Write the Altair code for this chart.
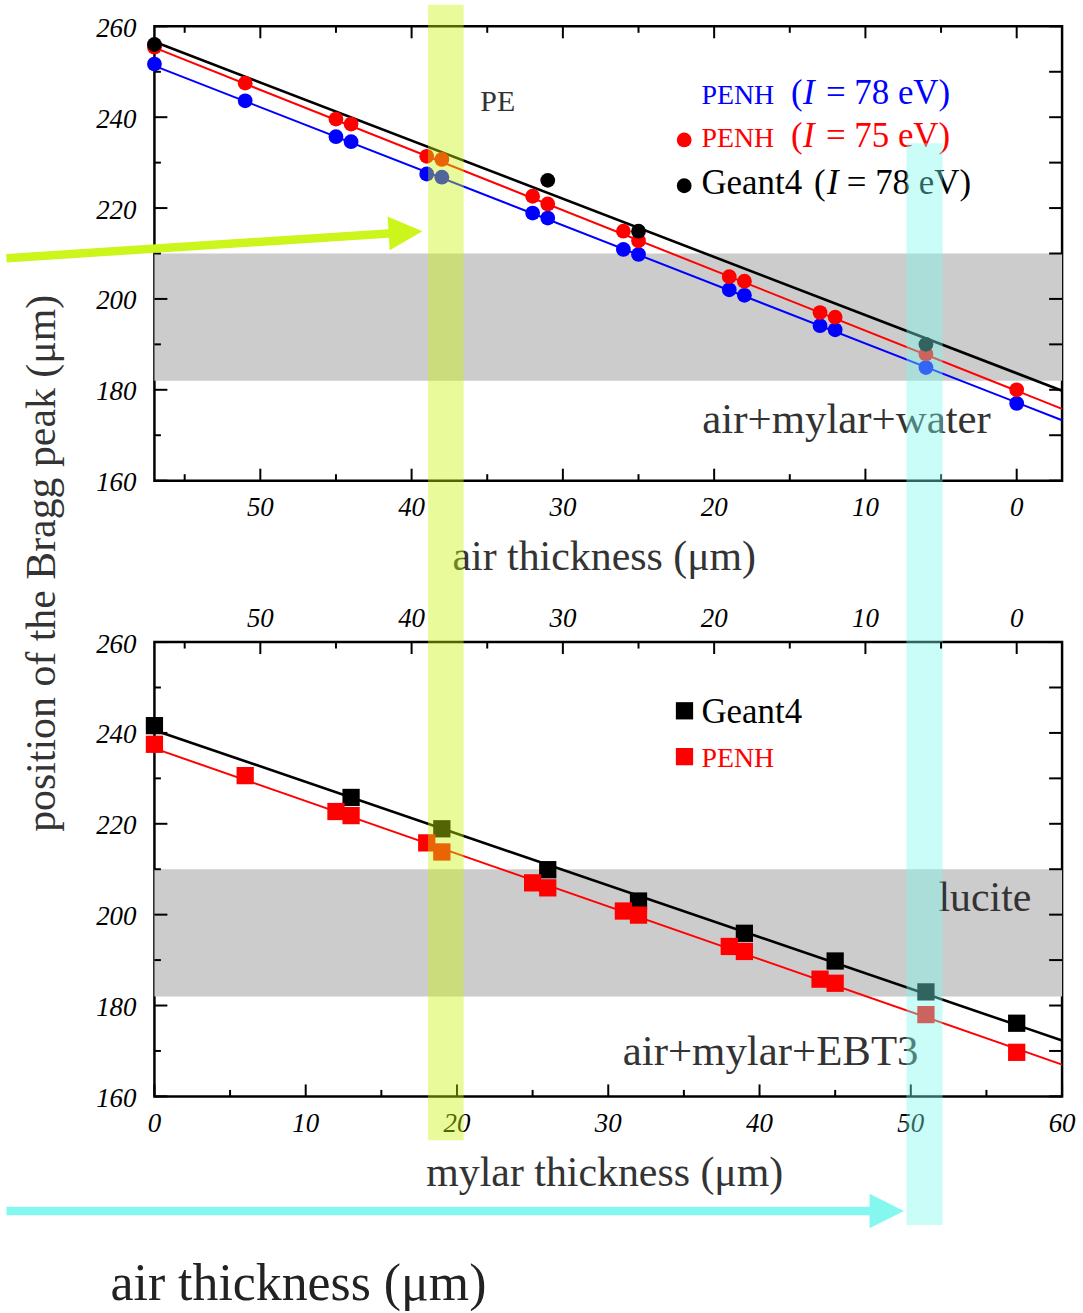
import altair as alt
import pandas as pd

FONT = "Liberation Serif"
W, H = 911, 456

# ---------------- data ----------------
# thickness of the layers (um); air = 57 - mylar
mylar_um = [0, 6, 12, 13, 18, 19, 25, 26, 31, 32, 38, 39, 44, 45, 51, 57]
air_um = [57, 51, 45, 44, 39, 38, 32, 31, 26, 25, 19, 18, 13, 12, 6, 0]

# top panel: air+mylar+water, Bragg peak position vs air thickness
penh78_water = [251.7, 243.6, 235.7, 234.6, 227.5, 226.8, 218.9, 217.8,
                210.9, 209.8, 202.0, 200.8, 194.1, 193.2, 184.9, 177.0]
penh75_water = [255.4, 247.5, 239.6, 238.5, 231.4, 230.7, 222.6, 220.9,
                214.9, 212.8, 204.9, 203.9, 197.0, 196.0, 187.9, 180.0]
geant4_water_air = [57, 31, 25, 6]
geant4_water = [256.0, 226.1, 214.9, 190.0]

fit_air = [57, -3]
fit_penh78_water = [251.3, 173.3]
fit_penh75_water = [255.3, 175.8]
fit_geant4_water = [256.6, 179.8]

# bottom panel: air+mylar+EBT3, Bragg peak position vs mylar thickness
penh_ebt3 = [237.5, 230.6, 222.7, 221.8, 215.8, 213.8, 207.0, 205.9,
             200.8, 199.9, 193.0, 191.9, 185.8, 184.9, 178.0, 169.7]
geant4_ebt3_mylar = [0, 13, 19, 26, 32, 39, 45, 51, 57]
geant4_ebt3 = [241.6, 225.8, 218.9, 209.9, 203.0, 195.9, 189.8, 183.0, 176.1]

fit_mylar = [0, 60]
fit_penh_ebt3 = [236.6, 167.0]
fit_geant4_ebt3 = [240.6, 172.3]

# shaded regions
band_gray = [182, 210]
band_yellow_mylar = [18.09, 20.44]
band_cyan_mylar = [49.71, 52.10]

# axis ticks / labels
air_major = [50, 40, 30, 20, 10, 0]
air_minor = [55, 45, 35, 25, 15, 5]
mylar_major = [0, 10, 20, 30, 40, 50, 60]
mylar_minor = [5, 15, 25, 35, 45, 55]
y_major = [160, 180, 200, 220, 240, 260]
y_minor = [170, 190, 210, 230, 250]

# ---------------- styling ----------------
BLUE, RED, BLACK = "#0000FF", "#FF0000", "#000000"
GRAY_TXT = "#333333"
YELLOW, CYAN = "#C8F40A", "#7DFAED"
ARROW_Y, ARROW_C = "#CCF51C", "#84F8EE"
DOT, SQ = 220, 300
LABEL_SIZE, TITLE_SIZE = 27, 42

XS_AIR = alt.Scale(domain=[-3, 57], reverse=True, nice=False, zero=False)
XS_MYL = alt.Scale(domain=[0, 60], nice=False, zero=False)
YS = alt.Scale(domain=[160, 260], nice=False, zero=False)


def xq(field, xs):
    return alt.X(field, type="quantitative", scale=xs, axis=None)


def yq(field):
    return alt.Y(field, type="quantitative", scale=YS, axis=None)


def note(text, x, y, xs, size, color=GRAY_TXT, style="normal", align="left"):
    d = pd.DataFrame({"x": [x], "y": [y], "t": [text]})
    return alt.Chart(d).mark_text(
        font=FONT, fontSize=size, color=color, fontStyle=style,
        align=align, baseline="alphabetic"
    ).encode(x=xq("x", xs), y=yq("y"), text="t:N")


def title_text(text, px, py, angle=0):
    d = pd.DataFrame({"t": [text]})
    return alt.Chart(d).mark_text(
        font=FONT, fontSize=TITLE_SIZE, color=GRAY_TXT, align="center",
        baseline="alphabetic", angle=angle
    ).encode(x=alt.value(px), y=alt.value(py), text="t:N")


def xlabels(vals, xs, py):
    d = pd.DataFrame({"v": vals})
    return alt.Chart(d).mark_text(
        font=FONT, fontSize=LABEL_SIZE, fontStyle="italic", color="black",
        align="center", baseline="alphabetic"
    ).encode(x=xq("v", xs), y=alt.value(py), text=alt.Text("v:Q", format="d"))


def ylabels(vals):
    d = pd.DataFrame({"v": vals})
    return alt.Chart(d).mark_text(
        font=FONT, fontSize=LABEL_SIZE, fontStyle="italic", color="black",
        align="right", baseline="alphabetic", dy=10.5
    ).encode(y=yq("v"), x=alt.value(-18), text=alt.Text("v:Q", format="d"))


def xticks(vals, xs, length, side):
    d = pd.DataFrame({"v": vals})
    y0, y1 = (H, H - length) if side == "bottom" else (0, length)
    return alt.Chart(d).mark_rule(color="black", strokeWidth=2).encode(
        x=xq("v", xs), y=alt.value(y0), y2=alt.value(y1))


def yticks(vals, length, side):
    d = pd.DataFrame({"v": vals})
    x0, x1 = (0, length) if side == "left" else (W, W - length)
    return alt.Chart(d).mark_rule(color="black", strokeWidth=2).encode(
        y=yq("v"), x=alt.value(x0), x2=alt.value(x1))


def band(x0, x1, y0, y1, xs, color, opacity):
    d = pd.DataFrame({"x": [x0], "x2": [x1], "y": [y0], "y2": [y1]})
    return alt.Chart(d).mark_rect(color=color, opacity=opacity).encode(
        x=xq("x", xs), x2="x2:Q", y=yq("y"), y2="y2:Q")


def fit_line(xv, yv, xs, color, width):
    d = pd.DataFrame({"x": xv, "y": yv})
    return alt.Chart(d).mark_line(color=color, strokeWidth=width).encode(
        x=xq("x", xs), y=yq("y"))


def pts(xv, yv, xs, color, shape, size):
    d = pd.DataFrame({"x": xv, "y": yv})
    return alt.Chart(d).mark_point(
        shape=shape, filled=True, size=size, color=color, opacity=1, strokeWidth=0
    ).encode(x=xq("x", xs), y=yq("y"))


def arrow(xs, x0, y0, x1, y1, hx, hy, angle, hsize, color):
    shaft = alt.Chart(pd.DataFrame({"x": [x0], "x2": [x1], "y": [y0], "y2": [y1]})).mark_rule(
        color=color, strokeWidth=8.5).encode(x=xq("x", xs), x2="x2:Q", y=yq("y"), y2="y2:Q")
    head = alt.Chart(pd.DataFrame({"x": [hx], "y": [hy]})).mark_point(
        shape="M -1 -1 L 1 0 L -1 1 Z", filled=True, size=hsize, angle=angle,
        color=color, opacity=1, strokeWidth=0).encode(x=xq("x", xs), y=yq("y"))
    return [shaft, head]


# ---------------- top panel ----------------
# invisible rectangle spanning the whole picture (fixes the page extent)
canvas = alt.Chart(pd.DataFrame({"c": [0]})).mark_rect(opacity=0).encode(
    x=alt.value(-153), x2=alt.value(1083 - 153), y=alt.value(-22), y2=alt.value(1313 - 22))

top_layers = [
    canvas,
    band(57, -3, band_gray[0], band_gray[1], XS_AIR, "#CCCCCC", 1),
    xticks(air_major, XS_AIR, 12, "bottom"),
    xticks(air_minor, XS_AIR, 6.5, "bottom"),
    xticks(air_major, XS_AIR, 12, "top"),
    xticks(air_minor, XS_AIR, 6.5, "top"),
    yticks(y_major, 13, "left"),
    yticks(y_minor, 6.5, "left"),
    yticks(y_major, 13, "right"),
    yticks(y_minor, 13, "right"),
    xlabels(air_major, XS_AIR, H + 35),
    ylabels(y_major),
    title_text("air thickness (μm)", 451.5, H + 90),
    title_text("position of the Bragg peak (μm)", -99.5, 539, angle=270),
    fit_line(fit_air, fit_penh78_water, XS_AIR, BLUE, 2),
    fit_line(fit_air, fit_penh75_water, XS_AIR, RED, 2),
    fit_line(fit_air, fit_geant4_water, XS_AIR, BLACK, 2.6),
    pts(air_um, penh78_water, XS_AIR, BLUE, "circle", DOT),
    pts(air_um, penh75_water, XS_AIR, RED, "circle", DOT),
    pts(geant4_water_air, geant4_water, XS_AIR, BLACK, "circle", DOT),
    # legend
    pts([21.98], [235.0], XS_AIR, RED, "circle", DOT),
    pts([21.98], [224.91], XS_AIR, BLACK, "circle", DOT),
    note("PENH", 20.84, 242.89, XS_AIR, 28, BLUE),
    note("(", 14.92, 242.89, XS_AIR, 35, BLUE),
    note("I", 14.12, 242.89, XS_AIR, 35, BLUE, "italic"),
    note("= 78 eV)", 12.61, 242.89, XS_AIR, 35, BLUE),
    note("PENH", 20.84, 233.40, XS_AIR, 28, RED),
    note("(", 14.92, 233.40, XS_AIR, 35, RED),
    note("I", 14.12, 233.40, XS_AIR, 35, RED, "italic"),
    note("= 75 eV)", 12.61, 233.40, XS_AIR, 35, RED),
    note("Geant4", 20.84, 223.0, XS_AIR, 35, BLACK),
    note("(", 13.40, 223.0, XS_AIR, 35, BLACK),
    note("I", 12.54, 223.0, XS_AIR, 35, BLACK, "italic"),
    note("= 78 eV)", 11.23, 223.0, XS_AIR, 35, BLACK),
    note("PE", 35.46, 241.43, XS_AIR, 30),
    note("air+mylar+water", 20.78, 170.53, XS_AIR, 43),
] + arrow(XS_AIR, 66.78, 208.97, 41.26, 214.47, 40.40, 214.65, 356.3, 1156, ARROW_Y)

top = alt.layer(*top_layers).properties(width=W, height=H)

# ---------------- bottom panel ----------------
bottom_main = alt.layer(
    band(0, 60, band_gray[0], band_gray[1], XS_MYL, "#CCCCCC", 1),
    xticks(mylar_major, XS_MYL, 12, "bottom"),
    xticks(mylar_minor, XS_MYL, 6.5, "bottom"),
    yticks(y_major, 13, "left"),
    yticks(y_minor, 6.5, "left"),
    yticks(y_major, 13, "right"),
    yticks(y_minor, 13, "right"),
    xlabels(mylar_major, XS_MYL, H + 36),
    ylabels(y_major),
    title_text("mylar thickness (μm)", 452, H + 90),
    fit_line(fit_mylar, fit_geant4_ebt3, XS_MYL, BLACK, 2.6),
    fit_line(fit_mylar, fit_penh_ebt3, XS_MYL, RED, 2),
    pts(geant4_ebt3_mylar, geant4_ebt3, XS_MYL, BLACK, "square", SQ),
    pts(mylar_um, penh_ebt3, XS_MYL, RED, "square", SQ),
    # legend
    pts([35.04], [244.87], XS_MYL, BLACK, "square", SQ),
    pts([35.04], [234.78], XS_MYL, RED, "square", SQ),
    note("Geant4", 36.16, 242.08, XS_MYL, 35, BLACK),
    note("PENH", 36.16, 232.59, XS_MYL, 28, RED),
    note("lucite", 51.83, 200.79, XS_MYL, 42),
    note("air+mylar+EBT3", 30.96, 166.80, XS_MYL, 43),
    note("air thickness (μm)", 9.52, 115.26, XS_MYL, 52, "#222222", align="center"),
    *arrow(XS_MYL, -9.78, 134.78, 47.55, 134.78, 48.41, 134.78, 0, 1190, ARROW_C),
    # highlight bands drawn over both panels
    band(band_yellow_mylar[0], band_yellow_mylar[1], 400.3, 150.35, XS_MYL, YELLOW, 0.41),
    band(band_cyan_mylar[0], band_cyan_mylar[1], 369.8, 131.71, XS_MYL, CYAN, 0.40),
)

bottom_air = alt.layer(
    xticks(air_major, XS_AIR, 12, "top"),
    xticks(air_minor, XS_AIR, 6.5, "top"),
    xlabels(air_major, XS_AIR, -15),
)

bottom = alt.layer(bottom_main, bottom_air).resolve_scale(x="independent").properties(
    width=W, height=H)

chart = alt.vconcat(top, bottom, spacing=162, bounds="flush").properties(
    padding=0
).configure(background="white").configure_view(
    stroke="black", strokeWidth=2.5
)

chart.save("out.html", embed_options={"renderer": "svg", "actions": False})
